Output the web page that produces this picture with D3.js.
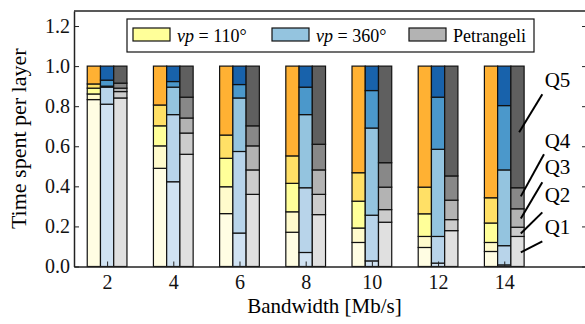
<!DOCTYPE html>
<html>
<head>
<meta charset="utf-8">
<script src="https://cdn.jsdelivr.net/npm/d3@7"></script>
<style>
  body { margin: 0; background: #fff; }
  svg { display: block; font-family: "Liberation Serif", "Times New Roman", serif; }
  .axis path, .axis line { stroke: #222; }
  .axis text { font-size: 20px; fill: #111; font-family: "Liberation Serif", serif; }
</style>
</head>
<body>
<div id="chart"></div>
<script>
// bandwidth groups [Mb/s]
const bandwidths = [2, 4, 6, 8, 10, 12, 14];
const layers = ["Q1", "Q2", "Q3", "Q4", "Q5"];
const yTicks = [0, 0.2, 0.4, 0.6, 0.8, 1.0, 1.2];

// share of time spent on each layer, one row per bandwidth
const vp110 = [
  [0.833, 0.028, 0.029, 0.021, 0.089],
  [0.490, 0.112, 0.100, 0.104, 0.194],
  [0.264, 0.134, 0.142, 0.116, 0.344],
  [0.171, 0.102, 0.142, 0.137, 0.448],
  [0.120, 0.072, 0.134, 0.142, 0.532],
  [0.095, 0.055, 0.113, 0.133, 0.604],
  [0.075, 0.045, 0.097, 0.126, 0.657]
];
const vp360 = [
  [0.810, 0.085, 0.005, 0.030, 0.070],
  [0.423, 0.335, 0.137, 0.028, 0.077],
  [0.167, 0.407, 0.267, 0.067, 0.092],
  [0.070, 0.323, 0.365, 0.137, 0.105],
  [0.028, 0.228, 0.435, 0.187, 0.122],
  [0.017, 0.133, 0.435, 0.260, 0.155],
  [0.008, 0.096, 0.378, 0.321, 0.197]
];
const petrangeli = [
  [0.841, 0.032, 0.017, 0.025, 0.085],
  [0.560, 0.106, 0.075, 0.104, 0.155],
  [0.360, 0.122, 0.120, 0.100, 0.298],
  [0.259, 0.101, 0.122, 0.128, 0.390],
  [0.221, 0.063, 0.112, 0.122, 0.482],
  [0.179, 0.055, 0.097, 0.121, 0.548],
  [0.150, 0.046, 0.092, 0.105, 0.607]
];

// layer labels on the right: [text x, text y, line start x, y, line end x, y] in data units
const notes = [
  ["Q5", 15.22, 0.93, 15.15, 0.86, 14.45, 0.67],
  ["Q4", 15.22, 0.63, 15.2, 0.56, 14.5, 0.35],
  ["Q3", 15.22, 0.50, 15.15, 0.42, 14.5, 0.24],
  ["Q2", 15.22, 0.36, 15.15, 0.27, 14.5, 0.165],
  ["Q1", 15.22, 0.20, 15.15, 0.125, 14.5, 0.07]
];

const schemes = [
  { name: "110", data: vp110, offset: -0.4, legend: "#ffff99",
    colors: ["#fffde3", "#fffbcc", "#ffff99", "#ffe066", "#ffb133"] },
  { name: "360", data: vp360, offset: 0, legend: "#94c4df",
    colors: ["#d0e2f2", "#b8d4ea", "#94c4df", "#4b98cb", "#1862ab"] },
  { name: "Petrangeli", data: petrangeli, offset: 0.4, legend: "#b3b3b3",
    colors: ["#e0e0e0", "#cccccc", "#b3b3b3", "#888888", "#5f5f5f"] }
];

let width = 585, height = 324;
let svg = d3.select("#chart").append("svg")
    .attr("width", width)
    .attr("height", height);

let x = d3.scaleLinear().domain([1, 16.5]).range([74, 587]);
let y = d3.scaleLinear().domain([0, 1.275]).range([266.5, 11]);
let barW = x(1.4) - x(1);

let stack = d3.stack().keys(layers);

schemes.forEach(function (s) {
    let rows = s.data.map(function (r, i) {
        let o = { bw: bandwidths[i] };
        layers.forEach(function (k, j) { o[k] = r[j]; });
        return o;
    });
    let series = stack(rows);

    svg.append("g").selectAll("g")
        .data(series)
        .enter().append("g")
        .attr("fill", function (d, i) { return s.colors[i]; })
        .selectAll("rect")
        .data(function (d) { return d; })
        .enter().append("rect")
        .attr("x", function (d) { return x(d.data.bw + s.offset) - barW / 2; })
        .attr("width", barW)
        .attr("y", function (d) { return y(d[1]); })
        .attr("height", function (d) { return y(d[0]) - y(d[1]); })
        .attr("stroke", "#111")
        .attr("stroke-width", 1.2);
});

// axes (ticks pointing inward)
svg.append("g").attr("class", "axis")
    .attr("transform", "translate(0," + y(0) + ")")
    .call(d3.axisBottom(x).tickValues(bandwidths).tickSize(-5).tickPadding(8).tickSizeOuter(0));

svg.append("g").attr("class", "axis")
    .attr("transform", "translate(" + x(1) + ",0)")
    .call(d3.axisLeft(y).tickValues(yTicks).tickFormat(d3.format(".1f")).tickSize(-5).tickPadding(4).tickSizeOuter(0));

svg.append("g").attr("class", "axis")
    .attr("transform", "translate(" + x(16.5) + ",0)")
    .call(d3.axisRight(y).tickValues(yTicks).tickFormat("").tickSize(-5).tickSizeOuter(0));

svg.append("line")
    .attr("x1", x(1)).attr("x2", x(16.5))
    .attr("y1", y(1.275)).attr("y2", y(1.275))
    .attr("stroke", "#222").attr("stroke-width", 1.5);

svg.selectAll(".axis path").attr("stroke-width", 1.5);

// axis titles
svg.append("text")
    .attr("transform", "translate(26," + ((y(0) + y(1.275)) / 2) + ") rotate(-90)")
    .attr("text-anchor", "middle")
    .attr("font-size", 22)
    .text("Time spent per layer");

svg.append("text")
    .attr("x", (x(1) + x(16.5)) / 2 - 6)
    .attr("y", 313)
    .attr("text-anchor", "middle")
    .attr("font-size", 21)
    .text("Bandwidth [Mb/s]");

// Q labels
notes.forEach(function (n) {
    svg.append("line")
        .attr("x1", x(n[3])).attr("y1", y(n[4]))
        .attr("x2", x(n[5])).attr("y2", y(n[6]))
        .attr("stroke", "#000").attr("stroke-width", 2);
    svg.append("text")
        .attr("x", x(n[1])).attr("y", y(n[2]))
        .attr("dy", "0.35em")
        .attr("font-size", 21)
        .text(n[0]);
});

// legend
let lg = svg.append("g");
lg.append("rect")
    .attr("x", 127).attr("y", 19).attr("width", 407).attr("height", 33)
    .attr("fill", "#fff").attr("stroke", "#111").attr("stroke-width", 1.2);

let legendX = [133, 272, 409];
schemes.forEach(function (s, i) {
    lg.append("rect")
        .attr("x", legendX[i]).attr("y", 28).attr("width", 37).attr("height", 13)
        .attr("fill", s.legend).attr("stroke", "#111").attr("stroke-width", 1.2);
    let t = lg.append("text")
        .attr("x", legendX[i] + 44).attr("y", 41.5)
        .attr("font-size", 18);
    if (s.name === "Petrangeli") {
        t.text("Petrangeli");
    } else {
        t.append("tspan").attr("font-style", "italic").text("vp");
        t.append("tspan").text(" = " + s.name + "\u00b0");
    }
});
</script>
</body>
</html>
